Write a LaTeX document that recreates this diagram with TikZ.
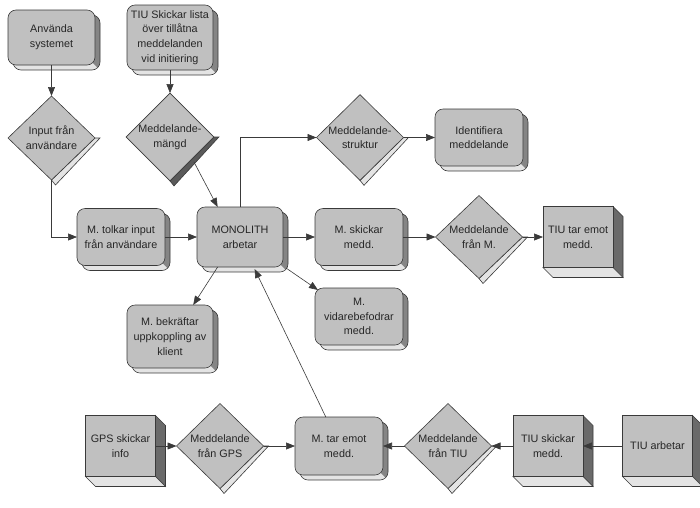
\documentclass[tikz,border=0pt]{standalone}
\usepackage{fontspec}
\setmainfont{Liberation Sans}
\usetikzlibrary{shapes.geometric,arrows.meta,calc,backgrounds}
\definecolor{face}{HTML}{C0C0C0}
\definecolor{lite}{HTML}{E4E4E4}
\definecolor{darkside}{HTML}{858585}
\definecolor{cubedark}{HTML}{6A6A6A}
\definecolor{edge}{HTML}{3A3A3A}
\definecolor{strong}{HTML}{5A5A5A}
\tikzset{
 base/.style={draw=edge, line width=0.6pt, fill=face, align=center,
   font=\fontsize{10.8}{14.7}\selectfont, inner sep=0pt, outer sep=0pt, text=black!85},
 rbox/.style={base, rectangle, rounded corners=8pt, minimum width=87pt, minimum height=57pt},
 dia/.style={base, diamond, minimum width=87pt, minimum height=85pt},
 cube/.style={base, rectangle, minimum width=70pt, minimum height=61pt},
 conn/.style={draw=edge, line width=0.6pt, -{Triangle[length=9pt,width=7pt]}},
 outl/.style={draw=edge, line width=0.6pt},
}
\newcommand\rshadow[1]{%
 \begin{scope}[on background layer]
  \begin{scope}
   \clip[rounded corners=8pt] ($(#1.north west)+(5,5)$) rectangle ($(#1.south east)+(5,5)$);
   \fill[lite] ($(#1.north west)+(5,5)$) rectangle ($(#1.south east)+(5,5)$);
   \fill[darkside] ($(#1.north east)+(-12,0)$) -- ($(#1.north east)+(12,0)$) -- ($(#1.south east)+(12,12)$) -- ($(#1.south east)+(-12,-12)$) -- cycle;
  \end{scope}
  \draw[outl, rounded corners=8pt] ($(#1.north west)+(5,5)$) rectangle ($(#1.south east)+(5,5)$);
 \end{scope}}
\newcommand\cubeside[1]{%
 \begin{scope}[on background layer]
  \filldraw[outl, fill=cubedark] (#1.north east) -- ++(10,10) -- ($(#1.south east)+(10,10)$) -- (#1.south east) -- cycle;
  \filldraw[outl, fill=lite] (#1.south west) -- (#1.south east) -- ++(10,10) -- ($(#1.south west)+(10,10)$) -- cycle;
 \end{scope}}
\newcommand\diastrip[2]{%
 \begin{scope}[on background layer]
  \filldraw[outl, fill=#2] (#1.east) -- ++(5,0) -- ($(#1.south)+(4,5)$) -- (#1.south) -- cycle;
 \end{scope}}
\begin{document}
\begin{tikzpicture}[x=1pt, y=-1pt]
\useasboundingbox (0,0) rectangle (700,507);
% rounded 3D boxes
\node[rbox, minimum height=55pt] (use) at (51.5,37.5) {Använda\\systemet};
\node[rbox, minimum width=86pt, minimum height=65pt] (tiul) at (170,37.5) {TIU Skickar lista\\över tillåtna\\meddelanden\\vid initiering};
\node[rbox, minimum width=88pt] (tolk) at (121,237) {M. tolkar input\\från användare};
\node[rbox, minimum width=86pt, minimum height=60pt] (mono) at (240,237) {MONOLITH\\arbetar};
\node[rbox, minimum width=88pt] (skick) at (359,237) {M. skickar\\medd.};
\node[rbox, minimum width=88pt] (vid) at (359,316.5) {M.\\vidarebefodrar\\medd.};
\node[rbox, minimum width=86pt, minimum height=63pt] (bek) at (170,336.5) {M. bekräftar\\uppkoppling av\\klient};
\node[rbox, minimum width=88pt] (ident) at (479,137.5) {Identifiera\\meddelande};
\node[rbox, minimum width=88pt, minimum height=58pt] (tar) at (339,446) {M. tar emot\\medd.};
\foreach \n in {use,tiul,tolk,mono,skick,vid,bek,ident,tar} {\rshadow{\n}}
% diamonds
\node[dia, minimum height=84pt] (d1) at (51.5,138) {Input från\\användare};
\node[dia] (d2) at (170,137) {Meddelande-\\mängd};
\node[dia] (d3) at (360,137.5) {Meddelande-\\struktur};
\node[dia, minimum height=83pt] (d4) at (479,237) {Meddelande\\från M.};
\node[dia] (d5) at (220,446) {Meddelande\\från GPS};
\node[dia] (d6) at (448,446) {Meddelande\\från TIU};
\diastrip{d1}{lite}
\diastrip{d2}{strong}
\diastrip{d3}{lite}
\diastrip{d4}{lite}
\diastrip{d5}{lite}
\diastrip{d6}{lite}
% cuboids
\node[cube] (c1) at (578,237) {TIU tar emot\\medd.};
\node[cube] (c2) at (548,446) {TIU skickar\\medd.};
\node[cube] (c3) at (657.5,446) {TIU arbetar};
\node[cube] (c4) at (120.5,446) {GPS skickar\\info};
\foreach \n in {c1,c2,c3,c4} {\cubeside{\n}}
% connectors
\draw[conn] (use.south) -- (d1.north);
\draw[conn] (tiul.south) -- (d2.north);
\draw[conn] (d1.south) |- (tolk.west);
\draw[conn] ($(d2.east)!0.5!(d2.south)+(2,3)$) -- ($(mono.north west)!0.24!(mono.north east)$);
\draw[conn] (tolk.east) -- (mono.west);
\draw[conn] (mono.north) |- (d3.west);
\draw[conn] (d3.east) -- (ident.west);
\draw[conn] (mono.east) -- (skick.west);
\draw[conn] (skick.east) -- (d4.west);
\draw[conn] (d4.east) -- (c1.west);
\draw[conn] ($(mono.south east)+(3,1)$) -- ($(vid.north west)+(3,2)$);
\draw[conn] ($(mono.south west)!0.24!(mono.south east)$) -- ($(bek.north west)!0.77!(bek.north east)$);
\draw[conn] ($(tar.north west)!0.35!(tar.north east)$) -- ($(mono.south west)!0.67!(mono.south east)+(0,2)$);
\draw[conn] (c4.east) -- (d5.west);
\draw[conn] (d5.east) -- (tar.west);
\draw[conn] (c2.west) -- (d6.east);
\draw[conn] (d6.west) -- (tar.east);
\draw[conn] (c3.west) -- (c2.east);
\end{tikzpicture}
\end{document}
